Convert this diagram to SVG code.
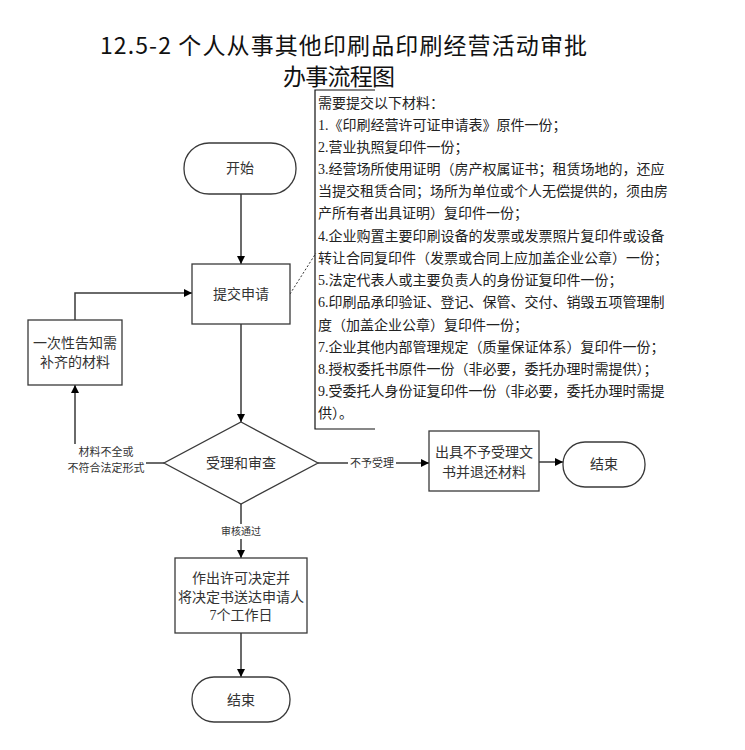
<svg xmlns="http://www.w3.org/2000/svg" width="745" height="750" viewBox="0 0 745 750">
<style>
.bg{fill:#ffffff}
.node{fill:#ffffff;stroke:#3a3a3a;stroke-width:1.3}
.lbl{font-family:"Liberation Serif","Noto Sans CJK SC",serif;font-size:14px;fill:#333333;text-anchor:middle}
.elbl{font-family:"Liberation Serif","Noto Sans CJK SC",serif;font-size:11px;fill:#333333;text-anchor:middle}
.note{font-family:"Liberation Serif","Noto Sans CJK SC",serif;font-size:14px;fill:#222222}
.title{font-family:"Noto Sans CJK SC",sans-serif;font-size:23px;fill:#111111}
.conn{fill:none;stroke:#3a3a3a;stroke-width:1.5}
.bracket{fill:none;stroke:#111111;stroke-width:1.2}
</style>
<defs>
<marker id="arr" viewBox="0 0 10 10" refX="10" refY="5" markerWidth="10" markerHeight="8" markerUnits="userSpaceOnUse" orient="auto">
<path d="M0,0 L10,5 L0,10 Z" fill="#000000"/>
</marker>
</defs>
<rect class="bg" x="0" y="0" width="745" height="750"/>
<g id="title">
<text class="title" x="100" y="54" textLength="487" lengthAdjust="spacing">12.5-2 个人从事其他印刷品印刷经营活动审批</text>
<text class="title" x="283" y="85" textLength="112" lengthAdjust="spacing">办事流程图</text>
</g>
<g id="connectors">
<line class="conn" x1="241" y1="194" x2="241" y2="264" marker-end="url(#arr)"/>
<line class="conn" x1="241" y1="324" x2="241" y2="422" marker-end="url(#arr)"/>
<polyline class="conn" points="75,320 75,293 192,293" marker-end="url(#arr)"/>
<polyline class="conn" points="164,463 75,463 75,385" marker-end="url(#arr)"/>
<line class="conn" x1="318" y1="463" x2="429" y2="463" marker-end="url(#arr)"/>
<line class="conn" x1="539" y1="462" x2="563" y2="462" marker-end="url(#arr)"/>
<line class="conn" x1="241" y1="504" x2="241" y2="558" marker-end="url(#arr)"/>
<line class="conn" x1="241" y1="633" x2="241" y2="677" marker-end="url(#arr)"/>
<line x1="290" y1="294" x2="316" y2="253" stroke="#333333" stroke-width="1" stroke-dasharray="2,2"/>
<rect x="68" y="444" width="78" height="32" fill="#ffffff"/>
<text class="elbl" x="106" y="456">材料不全或</text>
<text class="elbl" x="106" y="472">不符合法定形式</text>
<rect x="348" y="455" width="48" height="15" fill="#ffffff"/>
<text class="elbl" x="372" y="467">不予受理</text>
<rect x="213" y="524" width="56" height="15" fill="#ffffff"/>
<text class="elbl" x="241" y="535" style="font-size:10px">审核通过</text>
</g>
<g id="start">
<rect class="node" x="184" y="143" width="112" height="51" rx="25" ry="25"/>
<text class="lbl" x="240" y="173">开始</text>
</g>
<g id="submit">
<rect class="node" x="192" y="264" width="98" height="60"/>
<text class="lbl" x="241" y="299">提交申请</text>
</g>
<g id="notify">
<rect class="node" x="28" y="320" width="94" height="65"/>
<text class="lbl" x="75" y="348">一次性告知需</text>
<text class="lbl" x="75" y="367">补齐的材料</text>
</g>
<g id="review">
<polygon class="node" points="241,422 318,463 241,504 164,463"/>
<text class="lbl" x="241" y="468">受理和审查</text>
</g>
<g id="reject">
<rect class="node" x="429" y="431" width="110" height="60"/>
<text class="lbl" x="484" y="457">出具不予受理文</text>
<text class="lbl" x="484" y="477">书并退还材料</text>
</g>
<g id="end1">
<rect class="node" x="563" y="442" width="82" height="45" rx="22" ry="22"/>
<text class="lbl" x="604" y="469">结束</text>
</g>
<g id="approve">
<rect class="node" x="175" y="558" width="132" height="75"/>
<text class="lbl" x="241" y="583">作出许可决定并</text>
<text class="lbl" x="241" y="602">将决定书送达申请人</text>
<text class="lbl" x="241" y="620">7个工作日</text>
</g>
<g id="end2">
<rect class="node" x="192" y="677" width="98" height="45" rx="22" ry="22"/>
<text class="lbl" x="241" y="705">结束</text>
</g>
<g id="materials">
<polyline class="bracket" points="375,90 315,90 315,429 375,429"/>
<text class="note" x="318" y="108">需要提交以下材料：</text>
<text class="note" x="318" y="130">1.《印刷经营许可证申请表》原件一份；</text>
<text class="note" x="318" y="152">2.营业执照复印件一份；</text>
<text class="note" x="318" y="174">3.经营场所使用证明（房产权属证书；租赁场地的，还应</text>
<text class="note" x="318" y="196">当提交租赁合同；场所为单位或个人无偿提供的，须由房</text>
<text class="note" x="318" y="218">产所有者出具证明）复印件一份；</text>
<text class="note" x="318" y="241">4.企业购置主要印刷设备的发票或发票照片复印件或设备</text>
<text class="note" x="318" y="263">转让合同复印件（发票或合同上应加盖企业公章）一份；</text>
<text class="note" x="318" y="285">5.法定代表人或主要负责人的身份证复印件一份；</text>
<text class="note" x="318" y="307">6.印刷品承印验证、登记、保管、交付、销毁五项管理制</text>
<text class="note" x="318" y="330">度（加盖企业公章）复印件一份；</text>
<text class="note" x="318" y="352">7.企业其他内部管理规定（质量保证体系）复印件一份；</text>
<text class="note" x="318" y="374">8.授权委托书原件一份（非必要，委托办理时需提供）；</text>
<text class="note" x="318" y="396">9.受委托人身份证复印件一份（非必要，委托办理时需提</text>
<text class="note" x="318" y="418">供）。</text>
</g>
</svg>
